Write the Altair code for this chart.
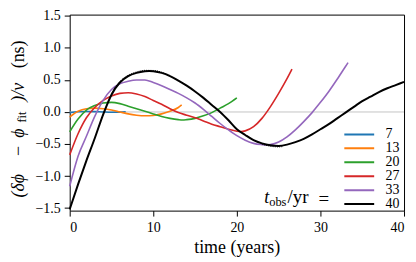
import altair as alt
import pandas as pd

series_names = ["7", "13", "20", "27", "33", "40"]
colors = ["#1f77b4", "#ff7f0e", "#2ca02c", "#d62728", "#9467bd", "#000000"]

x7 = [0, 1, 2, 3, 4, 5, 6, 6.7]
y7 = [-0.01, 0.003, 0.008, 0.006, 0.0, -0.004, -0.002, 0.004]

x13 = [0, 1, 2, 3, 4, 5, 6, 7, 8, 9, 10, 11, 12, 13, 13.4]
y13 = [-0.08, 0.01, 0.05, 0.06, 0.05, 0.03, 0.0, -0.03, -0.05, -0.06, -0.055, -0.03, 0.01, 0.07, 0.11]

x20 = [0, 1, 2, 3, 4, 5, 6, 7, 8, 9, 10, 11, 12, 13, 13.5, 14, 15, 16, 17, 18, 19, 20]
y20 = [-0.31, -0.11, 0.03, 0.10, 0.14, 0.15, 0.13, 0.09, 0.05, 0.01, -0.03, -0.07, -0.10,
       -0.12, -0.125, -0.12, -0.10, -0.06, -0.01, 0.06, 0.13, 0.22]

x27 = [0, 1, 2, 3, 4, 5, 6, 7, 8, 9, 10, 11, 12, 13, 14, 15, 16, 17, 18, 19, 20, 20.5,
       21, 22, 23, 24, 25, 26, 26.6]
y27 = [-0.67, -0.34, -0.09, 0.07, 0.18, 0.25, 0.29, 0.30, 0.28, 0.24, 0.18, 0.12, 0.05,
       -0.01, -0.05, -0.09, -0.14, -0.19, -0.23, -0.27, -0.30, -0.305, -0.295, -0.23,
       -0.10, 0.08, 0.29, 0.52, 0.67]

x33 = [0, 1, 2, 3, 4, 5, 6, 7, 8, 9, 10, 11, 12, 13, 14, 15, 16, 17, 18, 19, 20, 21, 22,
       23, 23.5, 24, 25, 26, 27, 28, 29, 30, 31, 32, 33, 33.3]
y33 = [-1.16, -0.69, -0.38, -0.07, 0.18, 0.35, 0.44, 0.48, 0.50, 0.50, 0.46, 0.41, 0.35,
       0.29, 0.22, 0.14, 0.04, -0.07, -0.18, -0.28, -0.37, -0.44, -0.49, -0.51, -0.515,
       -0.51, -0.47, -0.39, -0.28, -0.15, -0.01, 0.15, 0.32, 0.51, 0.71, 0.77]

x40 = [0, 1, 2, 3, 4, 5, 6, 7, 8, 9, 9.5, 10, 11, 12, 13, 14, 15, 16, 17, 18, 19, 20, 21,
       22, 23, 24, 25, 26, 27, 28, 29, 30, 31, 32, 33, 34, 35, 36, 37, 38, 39, 40]
y40 = [-1.52, -1.13, -0.76, -0.41, -0.04, 0.27, 0.46, 0.56, 0.61, 0.635, 0.64, 0.635,
       0.61, 0.56, 0.49, 0.41, 0.32, 0.22, 0.11, 0.0, -0.13, -0.27, -0.36, -0.44, -0.49,
       -0.52, -0.53, -0.51, -0.47, -0.42, -0.35, -0.27, -0.19, -0.10, -0.01, 0.08, 0.17,
       0.24, 0.31, 0.37, 0.42, 0.47]

# dotted companion curve, visible where it departs slightly from the 40-yr curve
xdot_a = [5, 6, 7, 8, 9, 10, 11, 12]
ydot_a = [0.29, 0.475, 0.575, 0.625, 0.65, 0.648, 0.622, 0.57]
xdot_b = [23, 24, 25, 25.5]
ydot_b = [-0.50, -0.535, -0.545, -0.54]

rows = []
for name, xs, ys in zip(series_names, [x7, x13, x20, x27, x33, x40],
                        [y7, y13, y20, y27, y33, y40]):
    for i, (a, b) in enumerate(zip(xs, ys)):
        rows.append({"series": name, "t": a, "v": b, "order": i})
df = pd.DataFrame(rows)

drows = []
for seg, xs, ys in [("a", xdot_a, ydot_a), ("b", xdot_b, ydot_b)]:
    for i, (a, b) in enumerate(zip(xs, ys)):
        drows.append({"seg": seg, "t": a, "v": b, "order": i})
ddf = pd.DataFrame(drows)

SERIF = "Liberation Serif"

xscale = alt.Scale(domain=[0, 40], nice=False, zero=False)
yscale = alt.Scale(domain=[-1.54, 1.52], nice=False, zero=False)

xaxis = alt.Axis(values=[0, 10, 20, 30, 40], title=None,
                 labelFont=SERIF, labelFontSize=14, labelOverlap=False)
yaxis = alt.Axis(values=[-1.5, -1.0, -0.5, 0.0, 0.5, 1.0, 1.5], format=".1f",
                 title=None, labelFont=SERIF, labelFontSize=14, labelOverlap=False)

xenc = alt.X("t:Q", scale=xscale, axis=xaxis)
yenc = alt.Y("v:Q", scale=yscale, axis=yaxis)

color = alt.Color("series:N",
                  scale=alt.Scale(domain=series_names, range=colors),
                  sort=series_names,
                  legend=alt.Legend(orient="none", legendX=275, legendY=114.0, title=None,
                                    symbolType="stroke", symbolSize=900,
                                    symbolStrokeWidth=2, clipHeight=12.85, rowPadding=-3.3,
                                    labelFont=SERIF, labelFontSize=14, labelColor="black",
                                    labelOffset=10.5, padding=0))

base = alt.Chart(df)

zero = alt.Chart(pd.DataFrame({"v": [0]})).mark_rule(color="#c4c4c4", strokeWidth=1).encode(
    y=yenc)

colored = base.transform_filter(alt.datum.series != "40").mark_line(
    strokeWidth=1.6, interpolate="monotone").encode(
    x=xenc, y=yenc, color=color, order="order:Q")

black = base.transform_filter(alt.datum.series == "40").mark_line(
    strokeWidth=2.0, interpolate="monotone").encode(
    x=xenc, y=yenc, color=color, order="order:Q")

dotted = alt.Chart(ddf).mark_line(color="black", strokeWidth=1, strokeDash=[1, 1.2],
                                  interpolate="monotone").encode(
    x=xenc, y=yenc, detail="seg:N", order="order:Q")


def txt(s, px, py, size, angle=0, style="normal", align="center", baseline="middle"):
    kw = dict(font=SERIF, fontSize=size, fontStyle=style, fontWeight="normal",
              align=align, baseline=baseline, color="black")
    if angle:
        kw["angle"] = angle
    return alt.Chart(pd.DataFrame({"s": [s]})).mark_text(**kw).encode(
        text="s:N", x=alt.value(px), y=alt.value(py))


OX, OY = 70, 14

# x-axis title
xlab = [txt("time (years)", 238.3 - OX, 254 - OY, 18, 0, "normal", "center", "alphabetic")]

# y-axis title pieces (rotated), positions relative to plot origin
YC = 19
ylab = [
    txt("(δϕ", YC - OX, 186 - OY, 18, 270, "italic"),
    txt("−", YC - OX, 151 - OY, 18, 270),
    txt("ϕ", YC - OX, 133 - OY, 18, 270, "italic"),
    txt("fit", YC + 3.5 - OX, 117 - OY, 12.5, 270),
    txt(")/ν", YC - OX, 92 - OY, 18, 270, "italic"),
    txt("(ns)", YC - OX, 54 - OY, 18, 270),
]

# legend title pieces: t_obs/yr =
ltitle = [
    txt("t", 265.5 - OX, 203.3 - OY, 18, 0, "italic", "left", "alphabetic"),
    txt("obs", 270.5 - OX, 206.7 - OY, 12.5, 0, "normal", "left", "alphabetic"),
    txt("/yr", 289 - OX, 203.3 - OY, 19, 0, "normal", "left", "alphabetic"),
    txt("=", 320 - OX, 199 - OY, 19, 0, "normal", "left", "middle"),
]

chart = alt.layer(zero, colored, black, dotted, *xlab, *ylab, *ltitle).properties(
    width=336, height=197,
    autosize=alt.AutoSizeParams(type="none"),
    padding={"left": 62, "top": 6, "right": 4, "bottom": 50},
).configure_view(stroke="black", strokeWidth=1).configure_axis(
    grid=False, domain=False, tickColor="black", tickSize=5.5, tickWidth=1,
    labelFont=SERIF, labelFontSize=14, labelColor="black", labelPadding=4,
)

chart.save("out.html", embed_options={"renderer": "svg", "actions": False})
